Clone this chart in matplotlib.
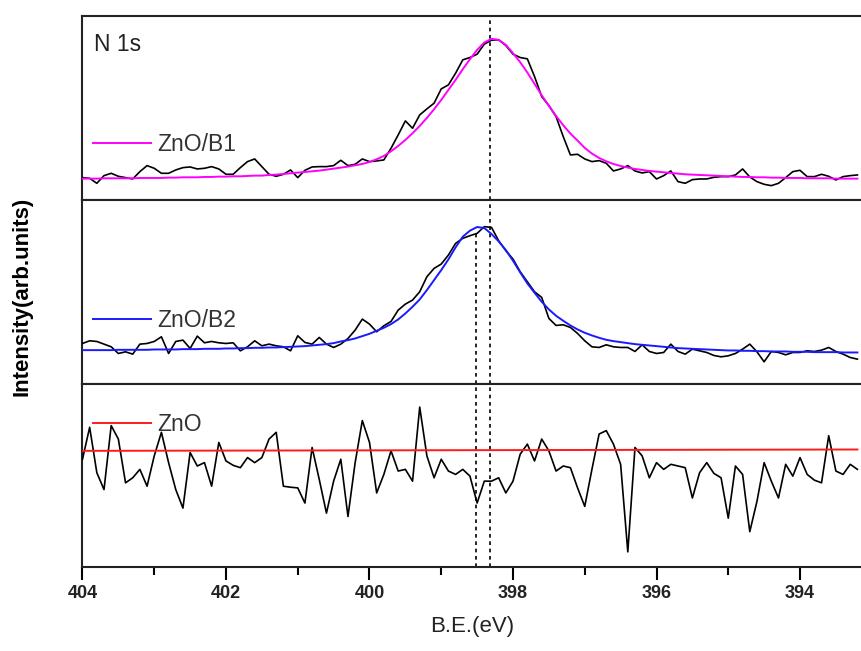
import numpy as np
import matplotlib
matplotlib.use("Agg")
import matplotlib.pyplot as plt
from matplotlib.ticker import MultipleLocator

# =========================
# 1. Data (arbitrary intensity units)
# =========================
energy = [
    404.0, 403.9, 403.8, 403.7, 403.6, 403.5, 403.4, 403.3, 403.2, 403.1,
    403.0, 402.9, 402.8, 402.7, 402.6, 402.5, 402.4, 402.3, 402.2, 402.1,
    402.0, 401.9, 401.8, 401.7, 401.6, 401.5, 401.4, 401.3, 401.2, 401.1,
    401.0, 400.9, 400.8, 400.7, 400.6, 400.5, 400.4, 400.3, 400.2, 400.1,
    400.0, 399.9, 399.8, 399.7, 399.6, 399.5, 399.4, 399.3, 399.2, 399.1,
    399.0, 398.9, 398.8, 398.7, 398.6, 398.5, 398.4, 398.3, 398.2, 398.1,
    398.0, 397.9, 397.8, 397.7, 397.6, 397.5, 397.4, 397.3, 397.2, 397.1,
    397.0, 396.9, 396.8, 396.7, 396.6, 396.5, 396.4, 396.3, 396.2, 396.1,
    396.0, 395.9, 395.8, 395.7, 395.6, 395.5, 395.4, 395.3, 395.2, 395.1,
    395.0, 394.9, 394.8, 394.7, 394.6, 394.5, 394.4, 394.3, 394.2, 394.1,
    394.0, 393.9, 393.8, 393.7, 393.6, 393.5, 393.4, 393.3, 393.2,
]

# ZnO/B1 (top)
b1_raw = [
    67, 65, 50, 73, 80, 71, 67, 63, 85, 103,
    95, 80, 80, 90, 97, 99, 93, 95, 100, 93,
    77, 77, 97, 115, 123, 100, 77, 71, 77, 90,
    67, 89, 99, 100, 100, 103, 119, 103, 107, 123,
    115, 117, 120, 155, 195, 237, 215, 255, 273, 290,
    333, 345, 380, 420, 427, 437, 467, 479, 480, 463,
    437, 427, 423, 370, 310, 283, 250, 190, 135, 137,
    123, 115, 118, 110, 87, 93, 103, 87, 81, 85,
    63, 73, 87, 55, 50, 61, 63, 63, 68, 70,
    70, 75, 93, 69, 55, 47, 43, 50, 67, 85,
    89, 70, 70, 77, 71, 60, 70, 73, 75,
]
b1_fit = [
    64, 64, 64, 65, 65, 65, 65, 65, 66, 66,
    66, 66, 67, 67, 68, 68, 68, 69, 69, 70,
    70, 71, 71, 72, 73, 73, 75, 76, 78, 80,
    82, 84, 86, 88, 91, 94, 97, 100, 104, 108,
    114, 122, 132, 146, 162, 180, 200, 222, 246, 272,
    300, 330, 360, 392, 422, 450, 472, 483, 480, 465,
    440, 413, 382, 348, 314, 282, 252, 224, 199, 178,
    156, 139, 126, 116, 108, 102, 97, 93, 90, 87,
    85, 83, 81, 79, 77, 76, 75, 74, 73, 72,
    71, 70, 69, 69, 68, 68, 67, 67, 66, 66,
    66, 65, 65, 65, 65, 64, 64, 64, 64,
]

# ZnO/B2 (middle)
b2_raw = [
    120, 128, 126, 118, 110, 90, 95, 88, 118, 120,
    126, 140, 90, 126, 130, 105, 142, 122, 126, 122,
    120, 122, 98, 110, 128, 113, 118, 113, 110, 98,
    143, 123, 118, 138, 118, 108, 118, 135, 160, 193,
    178, 155, 173, 186, 220, 238, 250, 275, 320, 345,
    358, 385, 420, 435, 443, 450, 470, 468, 428, 398,
    373, 335, 305, 275, 258, 195, 174, 176, 168, 150,
    128, 110, 108, 116, 110, 108, 108, 96, 116, 96,
    90, 93, 118, 96, 88, 103, 98, 93, 84, 80,
    83, 90, 103, 118, 95, 65, 96, 93, 86, 93,
    93, 98, 96, 100, 108, 96, 88, 78, 73,
]
b2_fit = [
    100, 100, 100, 100, 100, 101, 101, 101, 101, 101,
    102, 102, 102, 102, 103, 103, 103, 104, 104, 104,
    105, 105, 106, 106, 107, 107, 108, 108, 109, 110,
    111, 112, 114, 116, 118, 121, 126, 130, 135, 142,
    149, 158, 167, 178, 192, 210, 230, 252, 280, 310,
    340, 372, 408, 440, 458, 469, 466, 448, 426, 400,
    368, 333, 300, 272, 245, 222, 203, 188, 174, 162,
    152, 144, 137, 131, 127, 124, 121, 118, 116, 114,
    112, 110, 108, 106, 105, 104, 103, 102, 101, 100,
    99, 99, 98, 98, 97, 97, 96, 96, 96, 95,
    95, 95, 94, 94, 94, 94, 93, 93, 93,
]

# ZnO (bottom)
zno_raw = [
    320, 415, 280, 230, 420, 380, 250, 265, 290, 240,
    330, 400, 310, 230, 175, 340, 300, 310, 240, 370,
    315, 302, 295, 325, 310, 325, 380, 400, 240, 237,
    235, 190, 355, 260, 160, 255, 320, 150, 310, 435,
    370, 220, 275, 345, 285, 290, 255, 475, 330, 265,
    320, 285, 275, 290, 270, 190, 255, 255, 265, 220,
    255, 335, 365, 315, 380, 345, 285, 300, 295, 235,
    180, 290, 395, 405, 365, 305, 45, 355, 330, 265,
    310, 290, 305, 300, 295, 205, 280, 310, 278, 265,
    145, 300, 275, 105, 195, 310, 255, 205, 305, 270,
    325, 275, 258, 250, 390, 285, 275, 305, 290,
]
zno_fit_energy = [404.0, 393.2]
zno_fit = [345, 349]

# peak positions (dotted guide lines)
peak_b1 = 398.32
peak_b2 = 398.51
peak_b2_top = 460

labels = ["ZnO/B1", "ZnO/B2", "ZnO"]
fit_colors = ["#ff00ff", "#1a1aff", "#ff1a1a"]

# =========================
# 2. Figure
# =========================
fig, axes = plt.subplots(3, 1, figsize=(8.61, 6.51), dpi=100, sharex=True)
fig.subplots_adjust(left=0.0958, right=1.0, bottom=0.129, top=0.9747, hspace=0)

panels = [
    (energy, b1_raw, energy, b1_fit),
    (energy, b2_raw, energy, b2_fit),
    (energy, zno_raw, zno_fit_energy, zno_fit),
]
legend_pos = [0.30, 0.342, 0.776]
ylims = [(0, 550), (0, 550), (0, 545)]

dot_style = (0, (2.2, 2.2))
legend_font = {"family": ["Liberation Sans", "DejaVu Sans"], "size": 16.5}

for i, ax in enumerate(axes):
    x_raw, y_raw, x_fit, y_fit = panels[i]
    ax.plot(x_raw, y_raw, color="black", lw=1.2, zorder=3)
    ax.plot(x_fit, y_fit, color=fit_colors[i], lw=1.4, label=labels[i], zorder=4)

    ax.set_ylim(*ylims[i])
    ax.set_yticks([])
    for side in ["left", "top", "bottom"]:
        ax.spines[side].set_linewidth(1.5)
        ax.spines[side].set_color("#222222")
    ax.spines["right"].set_visible(False)

    leg = ax.legend(
        loc="center left",
        bbox_to_anchor=(0.014, legend_pos[i]),
        frameon=False,
        handlelength=2.5,
        handletextpad=0.3,
        borderpad=0,
        borderaxespad=0,
        prop=legend_font,
    )
    for t in leg.get_texts():
        t.set_color("#333333")

    ax.axvline(peak_b1, color="black", lw=1.2, ls=dot_style, zorder=2)

# second guide line starts at the B2 peak
axes[1].vlines(peak_b2, 0, peak_b2_top, color="black", lw=1.2, ls=dot_style, zorder=2)
axes[2].axvline(peak_b2, color="black", lw=1.2, ls=dot_style, zorder=2)

axes[0].text(0.015, 0.845, "N 1s", transform=axes[0].transAxes,
             ha="left", va="center", fontsize=16.5, color="#222222",
             family=["Liberation Sans", "DejaVu Sans"])

# =========================
# 3. Axes
# =========================
for ax in axes[:2]:
    ax.tick_params(axis="x", which="both", bottom=False, labelbottom=False)

ax = axes[2]
ax.set_xlim(404, 393.15)
ax.xaxis.set_major_locator(MultipleLocator(2))
ax.xaxis.set_minor_locator(MultipleLocator(1))
ax.tick_params(axis="x", which="major", direction="out", length=9, width=1.5, pad=4)
ax.tick_params(axis="x", which="minor", direction="out", length=6, width=1.5)
for lab in ax.get_xticklabels():
    lab.set_family(["Liberation Sans Narrow", "Liberation Sans", "DejaVu Sans"])
    lab.set_fontweight("bold")
    lab.set_fontsize(13)
    lab.set_color("#222222")

ax.set_xlabel("B.E.(eV)", fontsize=16, color="#222222",
              family=["Liberation Sans", "DejaVu Sans"], labelpad=10)

fig.text(0.026, 0.545, "Intensity(arb.units)", rotation=90,
         ha="center", va="center", fontsize=16, fontweight="bold",
         family=["Liberation Sans", "DejaVu Sans"])

plt.savefig("out.png", dpi=100)
